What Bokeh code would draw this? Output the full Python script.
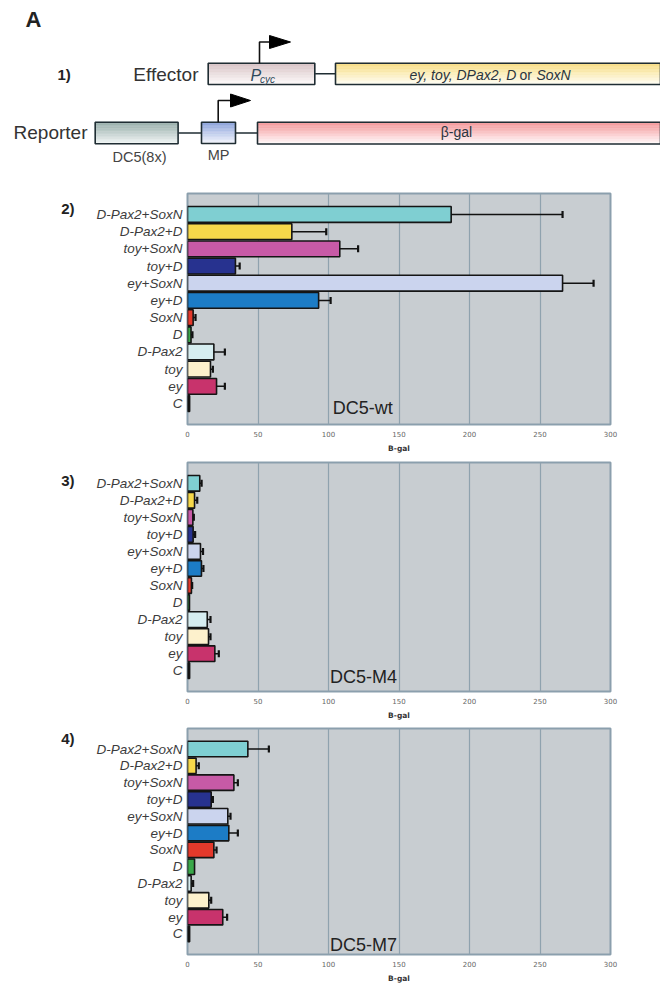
import numpy as np
from bokeh.plotting import figure
from bokeh.layouts import column
from bokeh.models import FactorRange, Range1d, Label, FixedTicker, CategoricalAxis
from bokeh.core.properties import value
from bokeh.embed import file_html
from bokeh.resources import INLINE

# ---------------- data ----------------
categories = ["C", "ey", "toy", "D-Pax2", "D", "SoxN", "ey+D", "ey+SoxN",
              "toy+D", "toy+SoxN", "D-Pax2+D", "D-Pax2+SoxN"]
bar_colors = ["#111111", "#c8336c", "#fdf1cc", "#d6edf0", "#3aa84a", "#e4392b",
              "#1c7cc6", "#cbd4ee", "#27328f", "#c75aa6", "#f6d84a", "#7fcfd2"]

wt_values = [1.5, 20.6, 16.3, 18.7, 2.5, 4.0, 93.0, 266.0, 34.0, 108.0, 74.0, 187.0]
wt_errors = [0.0, 5.9, 1.7, 7.8, 1.0, 1.7, 8.5, 22.0, 3.0, 13.0, 24.4, 79.0]

m4_values = [1.5, 19.4, 14.9, 14.0, 1.4, 2.8, 9.9, 9.2, 4.0, 3.8, 5.0, 8.7]
m4_errors = [0.0, 2.8, 1.4, 2.3, 0.0, 0.5, 1.4, 1.8, 1.4, 0.7, 1.9, 1.3]

m7_values = [1.5, 25.0, 15.1, 2.6, 5.0, 18.7, 29.3, 28.6, 16.8, 32.9, 6.1, 42.8]
m7_errors = [0.0, 3.1, 1.7, 1.4, 0.0, 1.9, 6.4, 1.9, 1.2, 2.8, 1.9, 14.9]

x_ticks = [0, 50, 100, 150, 200, 250, 300]
panel_numbers = ["2)", "3)", "4)"]
panel_titles = ["DC5-wt", "DC5-M4", "DC5-M7"]
x_axis_title = "B-gal"

# ---------------- schematic (panel 1) ----------------
box_left = [207.7, 335.0, 94.7, 201.0, 257.0]
box_right = [314.3, 660.0, 177.6, 235.0, 660.0]
box_top = [62.7, 62.7, 121.7, 121.7, 121.7]
box_bottom = [84.0, 84.0, 143.3, 143.0, 143.5]
box_top_colors = ["#d6c2c4", "#f7dd82", "#98aeab", "#8aa2da", "#f4979a"]
box_bottom_colors = ["#fdf9f9", "#fffdf2", "#eef3f2", "#f1f3fc", "#fff6f6"]

FONT = "Liberation Sans"
TXT = "#333333"
W = 660


def hex2rgb(h):
    h = h.lstrip("#")
    return np.array([int(h[i:i + 2], 16) for i in (0, 2, 4)], dtype=float)


def rgb2hex(c):
    return "#%02x%02x%02x" % tuple(int(round(v)) for v in c)


d = figure(width=W, height=185, x_range=Range1d(0, W), y_range=Range1d(185, 0),
           output_backend="svg", toolbar_location=None,
           x_axis_location=None, y_axis_location=None,
           min_border=0, min_border_left=0, min_border_right=0,
           min_border_top=0, min_border_bottom=0)
d.grid.visible = False
d.outline_line_color = None
d.background_fill_color = "white"
d.border_fill_color = "white"

# connector lines
d.segment(x0=[314.3, 177.6, 235.0], y0=[73.3, 132.5, 132.5],
          x1=[335.0, 201.0, 257.0], y1=[73.3, 132.5, 132.5],
          line_color="#1f2d33", line_width=1.6)

# gradient boxes
N = 14
for l, r, t, b, c0, c1 in zip(box_left, box_right, box_top, box_bottom,
                              box_top_colors, box_bottom_colors):
    a0, a1 = hex2rgb(c0), hex2rgb(c1)
    edges = np.linspace(t, b, N + 1)
    cols = [rgb2hex(a0 + (a1 - a0) * (i / (N - 1))) for i in range(N)]
    d.quad(left=[l] * N, right=[r] * N, top=list(edges[:-1]), bottom=list(edges[1:]),
           fill_color=cols, line_color=cols, line_width=0.5)
    d.quad(left=[l], right=[r], top=[t], bottom=[b], fill_color=None,
           line_color="#1f2d33", line_width=1.6)

# promoter arrows
d.multi_line(xs=[[259, 259, 271], [217.7, 217.7, 232]],
             ys=[[62.7, 41.5, 41.5], [121.7, 100.0, 100.0]],
             line_color="#111111", line_width=1.6)
d.patches(xs=[[269, 269, 290], [230, 230, 250]],
          ys=[[35, 48, 41.5], [93.5, 106.5, 100]],
          fill_color="#000000", line_color="#000000")

# texts
d.text(x=[25], y=[19], text=["A"], text_font=value(FONT), text_font_size="22px",
       text_font_style="bold", text_baseline="middle", text_color="#222222")
d.text(x=[57], y=[74], text=["1)"], text_font=value(FONT), text_font_size="15px",
       text_font_style="bold", text_baseline="middle", text_color="#222222")
d.text(x=[198, 87], y=[74, 132], text=["Effector", "Reporter"], text_font=value(FONT),
       text_font_size="19px", text_baseline="middle", text_align="right", text_color=TXT)
d.text(x=[139, 218], y=[156, 154], text=["DC5(8x)", "MP"], text_font=value(FONT),
       text_font_size="14.5px", text_baseline="middle", text_align="center",
       text_color="#444444")
d.text(x=[250], y=[74.5], text=["P"], text_font=value(FONT), text_font_size="16px",
       text_font_style="italic", text_baseline="middle", text_color="#2e4a5c")
d.text(x=[259.5], y=[78.5], text=["cyc"], text_font=value(FONT), text_font_size="10px",
       text_font_style="italic", text_baseline="middle", text_color="#2e4a5c")
d.text(x=[409, 536], y=[74, 74], text=["ey, toy, DPax2, D", "SoxN"], text_font=value(FONT),
       text_font_size="14px", text_font_style="italic", text_baseline="middle",
       text_color="#2a3540")
d.text(x=[519], y=[74], text=["or"], text_font=value(FONT), text_font_size="14px",
       text_baseline="middle", text_color="#2a3540")
d.text(x=[456], y=[131.5], text=["\u03b2-gal"], text_font=value(FONT), text_font_size="14px",
       text_baseline="middle", text_align="center", text_color="#2a3540")


# ---------------- bar panels ----------------
def make_panel(values, errors, number, title, height, b_top, b_bottom,
               title_y, title_x, num_gap):
    p = figure(width=W, height=height,
               y_range=FactorRange(factors=categories, range_padding=0.72,
                                   range_padding_units="absolute"),
               x_range=Range1d(0, 300),
               output_backend="svg", toolbar_location=None,
               min_border_left=187, min_border_right=50,
               min_border_top=b_top, min_border_bottom=b_bottom)
    p.background_fill_color = "#c8cdd1"
    p.border_fill_color = "white"
    p.outline_line_color = "#8b9fad"
    p.outline_line_width = 2
    p.ygrid.visible = False
    p.xgrid.ticker = FixedTicker(ticks=x_ticks)
    p.xgrid.grid_line_color = "#8fa2ae"
    p.xgrid.grid_line_width = 1.2

    p.xaxis.ticker = FixedTicker(ticks=x_ticks)
    p.xaxis.axis_line_color = None
    p.xaxis.major_tick_line_color = None
    p.xaxis.minor_tick_line_color = None
    p.xaxis.major_tick_out = 0
    p.xaxis.major_tick_in = 0
    p.xaxis.minor_tick_out = 0
    p.xaxis.minor_tick_in = 0
    p.xaxis.major_label_text_font = "DejaVu Sans"
    p.xaxis.major_label_text_font_size = "7px"
    p.xaxis.major_label_text_color = "#666666"
    p.xaxis.major_label_standoff = 6
    p.xaxis.axis_label = x_axis_title
    p.xaxis.axis_label_text_font = "DejaVu Sans"
    p.xaxis.axis_label_text_font_size = "7.5px"
    p.xaxis.axis_label_text_font_style = "bold"
    p.xaxis.axis_label_text_color = "#333333"
    p.xaxis.axis_label_standoff = 4

    p.yaxis.axis_line_color = None
    p.yaxis.major_tick_line_color = None
    p.yaxis.minor_tick_line_color = None
    p.yaxis.major_tick_out = 0
    p.yaxis.major_tick_in = 0
    p.yaxis.minor_tick_out = 0
    p.yaxis.minor_tick_in = 0
    p.yaxis.major_label_text_font = FONT
    p.yaxis.major_label_text_font_size = "13.5px"
    p.yaxis.major_label_text_font_style = "italic"
    p.yaxis.major_label_text_color = "#3c3c3c"
    p.yaxis.major_label_standoff = 5

    # panel number: outer left categorical axis; a zero-width spacer factor at the
    # bottom and the number factor near the top (spacing set by factor_padding)
    p.extra_y_ranges = {"num": FactorRange(factors=["\u200b", number],
                                           factor_padding=num_gap)}
    num_axis = CategoricalAxis(y_range_name="num",
                               axis_line_color=None, major_tick_line_color=None,
                               minor_tick_line_color=None, major_tick_out=0,
                               major_tick_in=0, minor_tick_out=0, minor_tick_in=0,
                               major_label_standoff=19,
                               major_label_text_font=FONT,
                               major_label_text_font_size="15px",
                               major_label_text_font_style="bold",
                               major_label_text_color="#222222")
    p.add_layout(num_axis, "left")

    p.hbar(y=categories, left=0, right=values, height=0.92,
           fill_color=bar_colors, line_color="#151515", line_width=1.6)

    ys = [c for c, e in zip(categories, errors) if e > 0]
    x0 = [v for v, e in zip(values, errors) if e > 0]
    x1 = [v + e for v, e in zip(values, errors) if e > 0]
    p.segment(x0=x0, y0=ys, x1=x1, y1=ys, line_color="#111111", line_width=1.5)
    p.scatter(x=x1, y=ys, marker="dash", angle=np.pi / 2, size=7,
              line_color="#111111", line_width=2.2)

    p.add_layout(Label(x=title_x, y=title_y, x_units="data", y_units="screen",
                       text=title, text_font=FONT, text_font_size="18px",
                       text_baseline="middle", text_color="#222222"))
    return p


p2 = make_panel(wt_values, wt_errors, panel_numbers[0], panel_titles[0],
                270, 8, 30, 17, 103, 5.73)
p3 = make_panel(m4_values, m4_errors, panel_numbers[1], panel_titles[1],
                267, 7, 30, 15, 101, 4.39)
p4 = make_panel(m7_values, m7_errors, panel_numbers[2], panel_titles[2],
                263, 6, 28, 10, 101, 9.45)

layout = column(d, column(p2, p3, p4, spacing=0), spacing=0)
open("out.html", "w").write(file_html(layout, INLINE))
